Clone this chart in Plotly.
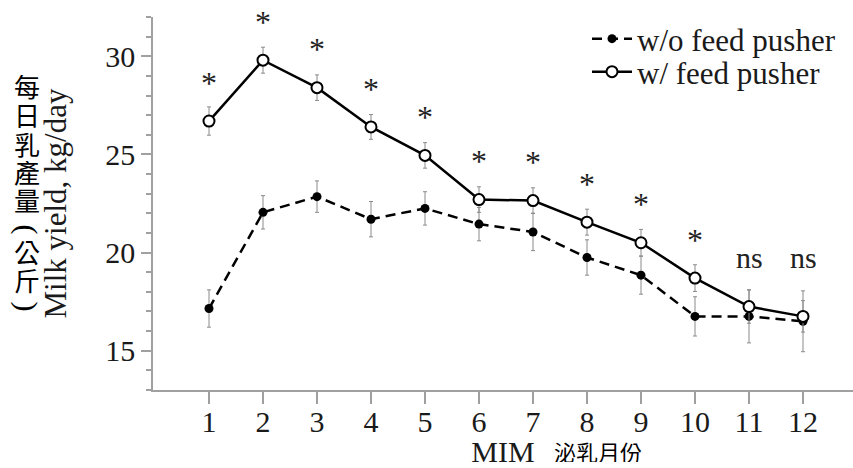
import plotly.graph_objects as go

# ---- data ----
months = [1, 2, 3, 4, 5, 6, 7, 8, 9, 10, 11, 12]
wo_pusher = [17.15, 22.05, 22.85, 21.7, 22.25, 21.45, 21.05, 19.75, 18.85, 16.75, 16.75, 16.5]
wo_err = [0.95, 0.85, 0.8, 0.9, 0.85, 0.85, 0.95, 0.9, 0.97, 1.0, 1.35, 1.55]
w_pusher = [26.7, 29.8, 28.4, 26.4, 24.95, 22.7, 22.65, 21.55, 20.5, 18.7, 17.25, 16.75]
w_err = [0.72, 0.66, 0.65, 0.63, 0.65, 0.65, 0.65, 0.66, 0.68, 0.68, 0.85, 0.8]
sig_labels = ["*", "*", "*", "*", "*", "*", "*", "*", "*", "*", "ns", "ns"]
y_ticks = [15, 20, 25, 30]
series_names = ["w/o feed pusher", "w/ feed pusher"]
y_title = "Milk yield, kg/day"
x_title = "MIM"
y_title_zh = ["每", "日", "乳", "產", "量", "(", "公", "斤", ")"]
x_title_zh = "泌乳月份"

SERIF = "Liberation Serif, Times New Roman, serif"
CJK_MIX = "Liberation Serif, Noto Sans CJK TC, Noto Sans CJK SC, serif"
CJK = "Noto Sans CJK TC, Noto Sans CJK SC, sans-serif"
AX = "#a0a0a0"
ERR = "#8a8a8a"
TXT = "#1a1a1a"

W, H = 853, 468
ML, MR, MT, MB = 153, 0, 17, 78
PH = H - MT - MB
PW = W - ML - MR


def px_to_paper_y(p):
    return 1 - (p - MT) / PH


def px_to_paper_x(p):
    return (p - ML) / PW


fig = go.Figure()
fig.add_trace(go.Scatter(
    x=months, y=wo_pusher, name=series_names[0], mode="lines+markers",
    line=dict(color="black", width=2.5, dash="10px,6px"),
    marker=dict(symbol="circle", size=9, color="black"),
    error_y=dict(type="data", array=wo_err, color=ERR, thickness=1, width=2),
    legend="legend",
))
fig.add_trace(go.Scatter(
    x=months, y=w_pusher, name=series_names[1], mode="lines+markers",
    line=dict(color="black", width=2.5),
    marker=dict(symbol="circle", size=11, color="white",
                line=dict(color="black", width=2)),
    error_y=dict(type="data", array=w_err, color=ERR, thickness=1, width=2),
    legend="legend2",
))

# significance labels
ns_pts = [w for w, s in zip(w_pusher, sig_labels) if s == "ns"]
ns_level = max(ns_pts) + 2.5 if ns_pts else 0
annotations = []
for m, w, s in zip(months, w_pusher, sig_labels):
    yv = w + 1.95 if s == "*" else ns_level
    annotations.append(dict(
        x=m, y=yv, xref="x", yref="y", text=s, showarrow=False,
        font=dict(family=SERIF, size=32 if s == "*" else 30, color="#222"),
        xanchor="center", yanchor="middle",
    ))

# vertical Chinese y-axis label: one annotation per character,
# brackets drawn rotated (vertical-writing form)
XC = px_to_paper_x(26.5)
centers = [88, 117, 146, 174, 202, 229, 254, 282, 306]
for ch, c in zip(y_title_zh, centers):
    if ch in "()":
        annotations.append(dict(
            x=XC, y=px_to_paper_y(c), xref="paper", yref="paper",
            text=ch, textangle=90, showarrow=False,
            font=dict(family=SERIF, size=30, color="black"),
            xanchor="center", yanchor="middle",
        ))
    else:
        annotations.append(dict(
            x=XC, y=px_to_paper_y(c), xref="paper", yref="paper",
            text=ch, showarrow=False,
            font=dict(family=CJK_MIX, size=26, color="black"),
            xanchor="center", yanchor="middle", height=26, borderpad=0,
        ))

# Chinese x-axis label
annotations.append(dict(
    x=px_to_paper_x(598), y=px_to_paper_y(451), xref="paper", yref="paper",
    text=x_title_zh, showarrow=False, font=dict(family=CJK, size=22, color="black"),
    xanchor="center", yanchor="middle", height=22, borderpad=0,
))

fig.update_layout(
    width=W, height=H,
    margin=dict(l=ML, r=MR, t=MT, b=MB, autoexpand=False),
    paper_bgcolor="white", plot_bgcolor="white",
    font=dict(family=SERIF, size=29, color=TXT),
    annotations=annotations,
    legend=dict(x=px_to_paper_x(587), y=px_to_paper_y(39), xanchor="left", yanchor="middle",
                itemwidth=40,
                bgcolor="rgba(0,0,0,0)", font=dict(family=SERIF, size=31, color=TXT)),
    legend2=dict(x=px_to_paper_x(587), y=px_to_paper_y(72), xanchor="left", yanchor="middle",
                 itemwidth=40,
                 bgcolor="rgba(0,0,0,0)", font=dict(family=SERIF, size=31, color=TXT)),
    showlegend=True,
)
fig.update_xaxes(
    range=[1 - 56 / 54, 1 - 56 / 54 + PW / 54],
    tickmode="array", tickvals=months, ticktext=[str(m) for m in months],
    ticks="outside", ticklen=12, tickcolor=AX, tickwidth=1.5,
    ticklabelstandoff=-8,
    showline=True, linecolor=AX, linewidth=1.5,
    showgrid=False, zeroline=False,
    tickfont=dict(family=SERIF, size=30, color=TXT),
    title=dict(text=x_title, font=dict(family=SERIF, size=30, color=TXT), standoff=26),
)
fig.update_yaxes(
    range=[13, 32],
    tickmode="array", tickvals=y_ticks,
    ticks="outside", ticklen=10, tickcolor=AX, tickwidth=1.5,
    minor=dict(dtick=1, tick0=0, ticks="outside", ticklen=5, tickcolor=AX, tickwidth=1.5),
    showline=True, linecolor=AX, linewidth=1.5,
    showgrid=False, zeroline=False,
    tickfont=dict(family=SERIF, size=30, color=TXT),
    title=dict(text=y_title, font=dict(family=SERIF, size=31, color=TXT), standoff=29),
)

fig.write_html("out.html")
